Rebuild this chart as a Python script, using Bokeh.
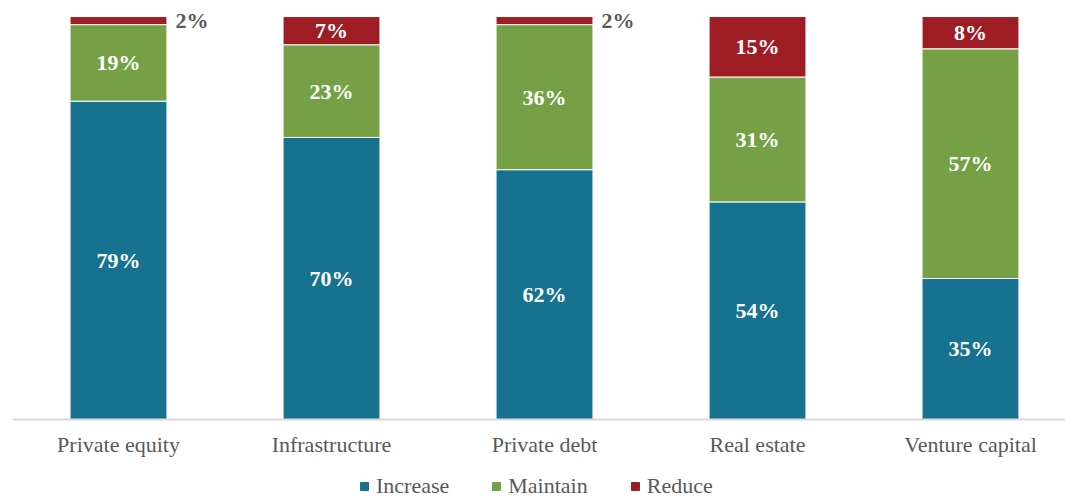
from bokeh.plotting import figure
from bokeh.layouts import column
from bokeh.models import Range1d, FixedTicker, Legend, LegendItem, ColumnDataSource
from bokeh.core.properties import value
from bokeh.embed import file_html
from bokeh.resources import INLINE

categories = ["Private equity", "Infrastructure", "Private debt", "Real estate", "Venture capital"]
increase = [79, 70, 62, 54, 35]
maintain = [19, 23, 36, 31, 57]
reduce_ = [2, 7, 2, 15, 8]
series = ["Increase", "Maintain", "Reduce"]
colors = ["#17728F", "#76A045", "#9E1C24"]

FONT = "Liberation Serif"
BAR_W = 0.455

xs = list(range(len(categories)))
src = ColumnDataSource(dict(x=xs, Increase=increase, Maintain=maintain, Reduce=reduce_))

p = figure(width=1065, height=472, output_backend="svg", toolbar_location=None,
           x_range=Range1d(-0.4977, 4.446), y_range=Range1d(0, 102),
           min_border_left=12, min_border_right=0, min_border_top=8, min_border_bottom=53)

rs = p.vbar_stack(series, x="x", width=BAR_W, fill_color=colors, line_color="white",
                  line_width=1, source=src)

# labels
in_x, in_y, in_t = [], [], []
out_x, out_y, out_t = [], [], []
for i in range(len(categories)):
    base = 0
    for vals in (increase, maintain, reduce_):
        v = vals[i]
        mid = base + v / 2
        if v < 5:
            out_x.append(xs[i] + BAR_W / 2 + 0.04)
            out_y.append(mid)
            out_t.append(f"{v}%")
        else:
            in_x.append(xs[i])
            in_y.append(mid)
            in_t.append(f"{v}%")
        base += v

p.text(x=in_x, y=in_y, text=in_t, text_color="white", text_font=value(FONT),
       text_font_size="22px", text_font_style="bold", text_align="center",
       text_baseline="middle")
p.text(x=out_x, y=out_y, text=out_t, text_color="#595959", text_font=value(FONT),
       text_font_size="22px", text_font_style="bold", text_align="left",
       text_baseline="middle")

p.yaxis.visible = False
p.xgrid.grid_line_color = None
p.ygrid.grid_line_color = None
p.outline_line_color = None

ax = p.xaxis[0]
ax.ticker = FixedTicker(ticks=xs)
ax.major_label_overrides = {i: c for i, c in zip(xs, categories)}
ax.axis_line_color = "#D9D9D9"
ax.axis_line_width = 2
ax.major_tick_line_color = None
ax.minor_tick_line_color = None
ax.major_label_text_font = FONT
ax.major_label_text_font_size = "22px"
ax.major_label_text_color = "#595959"
ax.major_label_standoff = 6

# legend strip below the chart (placeholder glyphs kept outside the visible range)
lg = figure(width=1065, height=27, output_backend="svg", toolbar_location=None,
            x_range=Range1d(0, 1), y_range=Range1d(0, 1),
            x_axis_location=None, y_axis_location=None,
            min_border_left=0, min_border_right=0, min_border_top=0, min_border_bottom=0)
lg.xgrid.grid_line_color = None
lg.ygrid.grid_line_color = None
lg.outline_line_color = None
hidden = ColumnDataSource(dict(x=[-10], top=[0]))
lrs = [lg.vbar(x="x", top="top", width=0.1, fill_color=c, line_color=c, source=hidden)
       for c in colors]
legend = Legend(items=[LegendItem(label=s, renderers=[r], index=0) for s, r in zip(series, lrs)],
                orientation="horizontal", location=(347, 0), padding=1, margin=0,
                border_line_color=None, background_fill_alpha=0,
                glyph_width=10, glyph_height=10, label_standoff=7, spacing=42,
                label_text_font=FONT, label_text_font_size="22px",
                label_text_color="#595959")
lg.add_layout(legend, "center")

layout = column(p, lg, spacing=0)
open("out.html", "w").write(file_html(layout, INLINE))
